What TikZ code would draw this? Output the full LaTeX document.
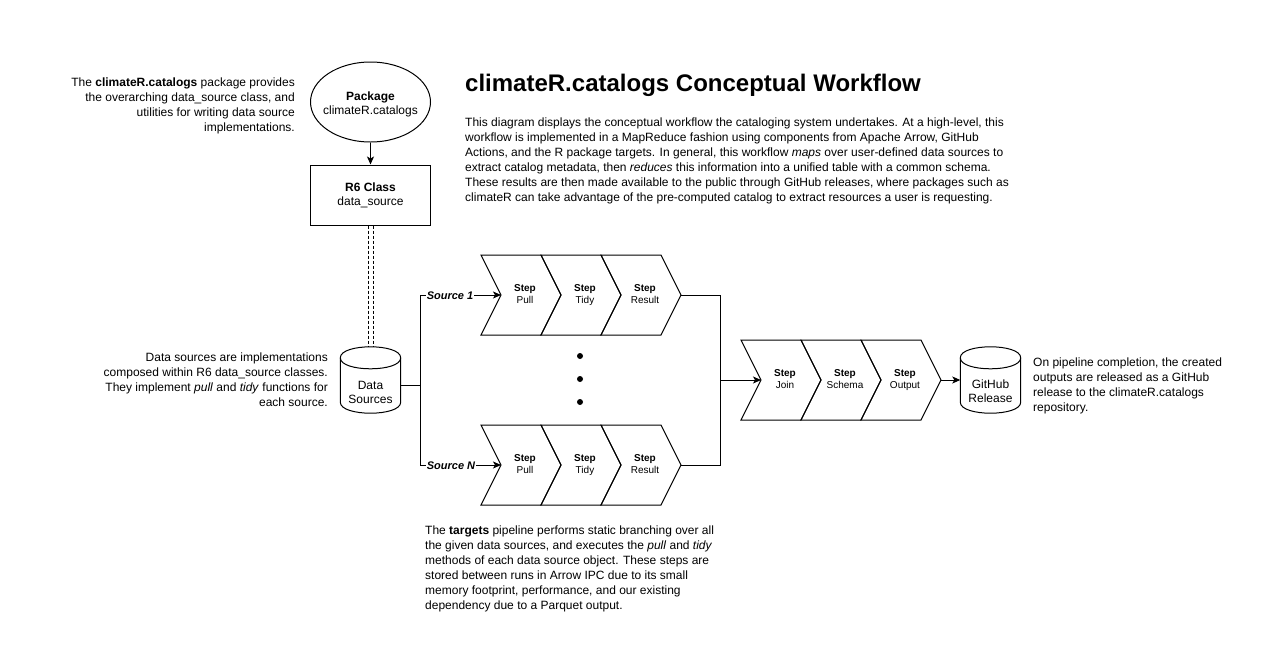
\documentclass[tikz,border=0pt]{standalone}
\usepackage{fontspec}
\setmainfont{Liberation Sans}
\usetikzlibrary{arrows.meta,shapes.geometric}
\newcommand\fsz[2]{\fontsize{#1pt}{#2pt}\selectfont}
\newcommand\chevshape[4]{%
  \draw[shp] (#2,#3-40) -- (#2+60,#3-40) -- (#2+80,#3) -- (#2+60,#3+40) -- (#2,#3+40) -- (#2+20,#3) -- cycle;
  \node[chevtxt, anchor=north] (#1) at (#2+44,#3-10.8) {\textbf{Step}\\#4};
  \coordinate (#1-in) at (#2+20,#3);
  \coordinate (#1-out) at (#2+80,#3);}
\newcommand\cylshape[1]{%
  \draw[shp] (#1.north west) ++(0,11) coordinate (#1-tl)
    .. controls +(0,-14.67) and +(0,-14.67) .. (#1.north east |- #1-tl) coordinate (#1-tr)
    .. controls +(0,14.67) and +(0,14.67) .. (#1-tl) -- cycle;
  \draw[shp] (#1-tl) -- ([yshift=11pt]#1.south west) coordinate (#1-bl)
    .. controls +(0,14.67) and +(0,14.67) .. ([yshift=11pt]#1.south east) coordinate (#1-br)
    -- (#1-tr);}
\tikzset{
  shp/.style={draw=black, line width=1pt, line join=miter},
  arr/.style={line width=1pt, -{Stealth[length=8pt,width=7pt,inset=2pt]}},
  ln/.style={line width=1pt},
  chevtxt/.style={align=center, inner sep=0pt, font=\fsz{10}{12}},
  lbl/.style={align=center, inner sep=0pt, font=\fsz{12}{14}},
  para/.style={inner sep=0pt, font=\fsz{12}{15}},
  srclbl/.style={fill=white, inner sep=1pt, font=\fsz{11}{13}\bfseries\itshape},
  cylbox/.style={rectangle, draw=none, minimum width=60pt, minimum height=66pt, inner sep=0pt},
}
\begin{document}
\begin{tikzpicture}[x=1pt, y=-1pt]
\fill[white] (0,0) rectangle (1270,665);
\useasboundingbox (0,0) rectangle (1270,665);

% title and paragraph
\node[inner sep=0pt, anchor=base west, font=\fsz{24}{28}\bfseries] (title) at (465,91) {climateR.catalogs Conceptual Workflow};
\node[para, anchor=north west, align=left] (desc) at (465,117.4) {This diagram displays the conceptual workflow the cataloging system undertakes. At a high-level, this\\
workflow is implemented in a MapReduce fashion using components from Apache Arrow, GitHub\\
Actions, and the R package targets. In general, this workflow \textit{maps} over user-defined data sources to\\
extract catalog metadata, then \textit{reduces} this information into a unified table with a common schema.\\
These results are then made available to the public through GitHub releases, where packages such as\\
climateR can take advantage of the pre-computed catalog to extract resources a user is requesting.};

% notes
\node[para, anchor=north east, align=right] (note1) at (295,77.4) {The \textbf{climateR.catalogs} package provides\\
the overarching data\_source class, and\\
utilities for writing data source\\
implementations.};
\node[para, anchor=north east, align=right] (note2) at (328,352.4) {Data sources are implementations\\
composed within R6 data\_source classes.\\
They implement \textit{pull} and \textit{tidy} functions for\\
each source.};
\node[para, anchor=north west, align=left] (note3) at (425,525.4) {The \textbf{targets} pipeline performs static branching over all\\
the given data sources, and executes the \textit{pull} and \textit{tidy}\\
methods of each data source object. These steps are\\
stored between runs in Arrow IPC due to its small\\
memory footprint, performance, and our existing\\
dependency due to a Parquet output.};
\node[para, anchor=north west, align=left] (note4) at (1033,357.4) {On pipeline completion, the created\\
outputs are released as a GitHub\\
release to the climateR.catalogs\\
repository.};

% package and class
\node[ellipse, shp, minimum width=120pt, minimum height=80pt, inner sep=0pt] (pkg) at (370.5,102) {};
\node[lbl] (pkgtxt) at (370.5,104) {\textbf{Package}\\climateR.catalogs};
\node[rectangle, shp, minimum width=120pt, minimum height=60pt, inner sep=0pt, align=center, font=\fsz{12}{14}] (r6) at (370.5,195) {\textbf{R6 Class}\\data\_source};
\draw[arr] (pkg) -- (r6);

% data sources cylinder
\node[cylbox] (ds) at (370.5,380) {};
\cylshape{ds}
\node[lbl] (dstxt) at (370.5,392) {Data\\Sources};
\draw[ln, dash pattern=on 3pt off 2pt] ([xshift=-2.5pt]r6.south) -- ([xshift=-2.5pt]ds.north);
\draw[ln, dash pattern=on 3pt off 2pt] ([xshift=2.5pt]r6.south) -- ([xshift=2.5pt]ds.north);

% chevrons
\chevshape{a1}{481}{295}{Pull}
\chevshape{a2}{541}{295}{Tidy}
\chevshape{a3}{601}{295}{Result}
\chevshape{b1}{481}{465}{Pull}
\chevshape{b2}{541}{465}{Tidy}
\chevshape{b3}{601}{465}{Result}
\chevshape{c1}{741}{380}{Join}
\chevshape{c2}{801}{380}{Schema}
\chevshape{c3}{861}{380}{Output}

% dots
\fill (580,356) circle[radius=3pt];
\fill (580,379) circle[radius=3pt];
\fill (580,402) circle[radius=3pt];

% github cylinder
\node[cylbox] (gh) at (990.5,380) {};
\cylshape{gh}
\node[lbl] (ghtxt) at (990.5,391) {GitHub\\Release};

% connectors
\coordinate (split) at (420.5,385);
\draw[ln] ([yshift=-5pt]ds.east) -- (split);
\draw[arr] (split) |- (a1-in);
\draw[arr] (split) |- (b1-in);
\node[srclbl] (s1) at (450,296) {Source 1};
\node[srclbl] (sn) at (451,466) {Source N};

\coordinate (merge) at (720.5,380);
\draw[ln] (a3-out) -| (merge);
\draw[ln] (b3-out) -| (merge);
\draw[arr] (merge) -- (c1-in);
\draw[arr] (c3-out) -- (gh.west);
\end{tikzpicture}
\end{document}
